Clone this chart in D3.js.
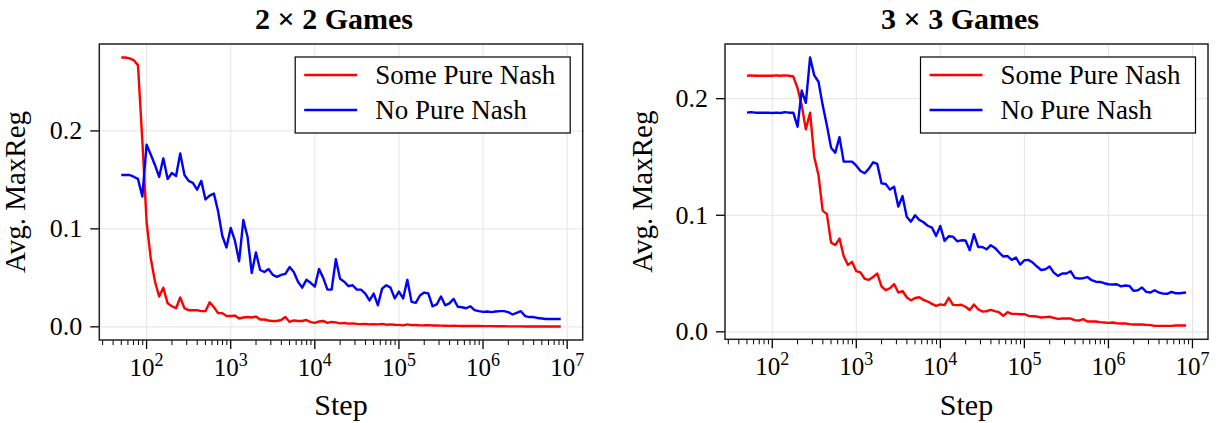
<!DOCTYPE html>
<html lang="en">
<head>
    <meta charset="UTF-8">
    <title>Avg. MaxReg vs Step</title>
    <script src="https://d3js.org/d3.v7.min.js"></script>
    <style>
        body { margin: 0; background: #fff; }
        svg text { font-family: "Liberation Serif", "DejaVu Serif", serif; fill: #000; }
        .grid line { stroke: #e4e4e4; stroke-width: 1; }
    </style>
</head>
<body>
<svg id="chart" width="1223" height="423"></svg>
<script>
// training steps (log-spaced checkpoints)
const steps = [
    50, 56, 63, 71, 79, 89,
    100, 112, 126, 141, 158, 178, 200, 224, 251, 282, 316, 355, 398, 447, 501, 562, 631, 708, 794, 891,
    1000, 1122, 1259, 1413, 1585, 1778, 1995, 2239, 2512, 2818, 3162, 3548, 3981, 4467, 5012, 5623, 6310, 7079, 7943, 8913,
    10000, 11220, 12589, 14125, 15849, 17783, 19953, 22387, 25119, 28184, 31623, 35481, 39811, 44668, 50119, 56234, 63096, 70795, 79433, 89125,
    100000, 112202, 125893, 141254, 158489, 177828, 199526, 223872, 251189, 281838, 316228, 354813, 398107, 446684, 501187, 562341, 630957, 707946, 794328, 891251,
    1000000, 1122018, 1258925, 1412538, 1584893, 1778279, 1995262, 2238721, 2511886, 2818383, 3162278, 3548134, 3981072, 4466836, 5011872, 5623413, 6309573, 7079458,
    8388608
];

// 2x2 games
const somePure2 = [
    0.275, 0.275, 0.274, 0.272, 0.267, 0.19,
    0.107, 0.070, 0.046, 0.031, 0.040, 0.024, 0.021, 0.019, 0.030, 0.019, 0.017, 0.017, 0.017, 0.016, 0.016, 0.025, 0.020, 0.014, 0.014, 0.011,
    0.011, 0.0115, 0.0085, 0.0095, 0.010, 0.0095, 0.0105, 0.0075, 0.0075, 0.0065, 0.006, 0.006, 0.007, 0.010, 0.005, 0.0065, 0.006, 0.006, 0.007, 0.0048,
    0.004, 0.0055, 0.006, 0.004, 0.005, 0.0045, 0.0035, 0.004, 0.0033, 0.0035, 0.003, 0.0028, 0.003, 0.0025, 0.0028, 0.0025, 0.003, 0.0022,
    0.0025, 0.0022, 0.002, 0.0015, 0.0025, 0.0018, 0.002, 0.0015, 0.0016, 0.0018, 0.0014, 0.0013, 0.0012, 0.0011, 0.0010, 0.0011, 0.0010, 0.0009, 0.0009, 0.0008,
    0.0008, 0.0008, 0.0007, 0.0007, 0.0007, 0.0006, 0.0006, 0.0006, 0.0005, 0.0005, 0.0005, 0.0005, 0.0004, 0.0004, 0.0004, 0.0004, 0.0003, 0.0003,
    0.0003, 0.0003, 0.0003
];
const noPure2 = [
    0.155, 0.155, 0.155, 0.153, 0.151, 0.133,
    0.186, 0.176, 0.165, 0.153, 0.172, 0.151, 0.157, 0.154, 0.177, 0.155, 0.149, 0.147, 0.140, 0.149, 0.130, 0.134, 0.136, 0.118, 0.093, 0.081,
    0.101, 0.088, 0.067, 0.109, 0.092, 0.055, 0.076, 0.058, 0.056, 0.059, 0.053, 0.051, 0.053, 0.054, 0.061, 0.056, 0.046, 0.040, 0.048, 0.045,
    0.041, 0.059, 0.050, 0.038, 0.038, 0.069, 0.049, 0.046, 0.0415, 0.0425, 0.038, 0.038, 0.034, 0.027, 0.034, 0.022, 0.039, 0.0425, 0.040, 0.029,
    0.036, 0.029, 0.048, 0.0255, 0.0245, 0.032, 0.035, 0.034, 0.021, 0.023, 0.031, 0.022, 0.024, 0.0285, 0.0205, 0.020, 0.019, 0.021, 0.017, 0.016,
    0.0153, 0.0156, 0.015, 0.0156, 0.016, 0.016, 0.015, 0.0126, 0.0143, 0.016, 0.011, 0.010, 0.010, 0.009, 0.0085, 0.008, 0.008, 0.008,
    0.008
];

// 3x3 games
const somePure3 = [
    0.2197, 0.220, 0.2197, 0.2197, 0.2197, 0.2197,
    0.2197, 0.220, 0.2197, 0.220, 0.2197, 0.219, 0.209, 0.1945, 0.1737, 0.188, 0.150, 0.1345, 0.104, 0.101, 0.0765, 0.0745, 0.080, 0.065, 0.0574, 0.060,
    0.052, 0.051, 0.0454, 0.0446, 0.047, 0.050, 0.039, 0.0357, 0.0374, 0.041, 0.0337, 0.035, 0.0297, 0.027, 0.029, 0.0297, 0.0274, 0.026, 0.024, 0.0223,
    0.0235, 0.0229, 0.0292, 0.0231, 0.0229, 0.0232, 0.0215, 0.0187, 0.0234, 0.0194, 0.0174, 0.0177, 0.0189, 0.0177, 0.0166, 0.0137, 0.0169, 0.0154, 0.0154, 0.0151,
    0.0151, 0.0137, 0.0134, 0.0131, 0.0123, 0.0126, 0.0129, 0.012, 0.0111, 0.0114, 0.0114, 0.0114, 0.010, 0.0097, 0.0109, 0.0089, 0.0089, 0.0089, 0.0083, 0.008,
    0.0077, 0.0080, 0.0074, 0.0071, 0.0071, 0.0066, 0.0063, 0.0063, 0.0063, 0.006, 0.0057, 0.0051, 0.0051, 0.0051, 0.0051, 0.0051, 0.0054, 0.0054,
    0.0054
];
const noPure3 = [
    0.188, 0.1885, 0.188, 0.188, 0.188, 0.188,
    0.1877, 0.188, 0.1877, 0.1885, 0.188, 0.188, 0.176, 0.207, 0.1965, 0.2354, 0.220, 0.2145, 0.1945, 0.177, 0.158, 0.1537, 0.167, 0.146, 0.146, 0.146,
    0.1425, 0.138, 0.136, 0.140, 0.1454, 0.144, 0.1274, 0.1268, 0.122, 0.1245, 0.1074, 0.1165, 0.0988, 0.0945, 0.100, 0.096, 0.094, 0.091, 0.0894, 0.0823,
    0.0908, 0.078, 0.082, 0.0817, 0.0777, 0.0785, 0.0783, 0.070, 0.0837, 0.0728, 0.0728, 0.0708, 0.0743, 0.072, 0.068, 0.0646, 0.065, 0.0617, 0.0637, 0.0577,
    0.0614, 0.0617, 0.0594, 0.056, 0.053, 0.0537, 0.056, 0.0508, 0.048, 0.050, 0.050, 0.052, 0.0463, 0.0457, 0.046, 0.047, 0.0443, 0.043, 0.0428, 0.0417,
    0.0408, 0.0406, 0.0408, 0.039, 0.0397, 0.0394, 0.0351, 0.0357, 0.038, 0.0343, 0.0337, 0.0357, 0.0337, 0.0328, 0.0326, 0.0343, 0.0331, 0.0331,
    0.0337
];

const yTicks2 = [0.0, 0.1, 0.2];
const yTicks3 = [0.0, 0.1, 0.2];
const xTickExps = [2, 3, 4, 5, 6, 7];
const seriesNames = ["Some Pure Nash", "No Pure Nash"];
const seriesColors = ["#ff0000", "#0000ff"];

const svg = d3.select("#chart");

const panels = [
    { title: "2 \u00d7 2 Games", titleX: 334, x0: 99.3, x1: 582.7, y0: 44, y1: 340, ylabX: 25,
      yTicks: yTicks2, series: [somePure2, noPure2] },
    { title: "3 \u00d7 3 Games", titleX: 960, x0: 725, x1: 1208, y0: 44, y1: 339.3, ylabX: 652,
      yTicks: yTicks3, series: [somePure3, noPure3] }
];

function padded(lo, hi, frac) {
    const m = (hi - lo) * frac;
    return [lo - m, hi + m];
}

panels.forEach(p => {
    const g = svg.append("g");

    const logExt = padded(Math.log10(d3.min(steps)), Math.log10(d3.max(steps)), 0.05);
    const x = d3.scaleLog()
        .domain([Math.pow(10, logExt[0]), Math.pow(10, logExt[1])])
        .range([p.x0, p.x1]);

    const allVals = p.series[0].concat(p.series[1]);
    const y = d3.scaleLinear()
        .domain(padded(d3.min(allVals), d3.max(allVals), 0.05))
        .range([p.y1, p.y0]);

    const majors = xTickExps.map(e => Math.pow(10, e)).filter(v => v >= x.domain()[0] && v <= x.domain()[1]);
    const minors = [];
    for (let e = 1; e <= 7; e++) {
        for (let k = 2; k <= 9; k++) {
            const v = k * Math.pow(10, e);
            if (v >= x.domain()[0] && v <= x.domain()[1]) minors.push(v);
        }
    }

    // grid
    const grid = g.append("g").attr("class", "grid");
    grid.selectAll(".gx").data(majors).enter().append("line")
        .attr("x1", d => x(d)).attr("x2", d => x(d))
        .attr("y1", p.y0).attr("y2", p.y1);
    grid.selectAll(".gy").data(p.yTicks).enter().append("line")
        .attr("x1", p.x0).attr("x2", p.x1)
        .attr("y1", d => y(d)).attr("y2", d => y(d));

    // x axis ticks
    const xAxis = g.append("g").attr("transform", `translate(0,${p.y1})`);
    xAxis.selectAll(".minor").data(minors).enter().append("line")
        .attr("x1", d => x(d)).attr("x2", d => x(d))
        .attr("y1", 0).attr("y2", 5)
        .attr("stroke", "#000").attr("stroke-width", 1);
    xAxis.selectAll(".major").data(majors).enter().append("line")
        .attr("x1", d => x(d)).attr("x2", d => x(d))
        .attr("y1", 0).attr("y2", 9)
        .attr("stroke", "#000").attr("stroke-width", 1.3);
    const xl = xAxis.selectAll(".xl").data(majors).enter().append("text")
        .attr("x", d => x(d)).attr("y", 36)
        .attr("text-anchor", "middle")
        .attr("font-size", 25);
    xl.append("tspan").text("10");
    xl.append("tspan").attr("font-size", 18).attr("dy", -10).text(d => Math.round(Math.log10(d)));

    // y axis ticks
    const yAxis = g.append("g");
    yAxis.selectAll(".yt").data(p.yTicks).enter().append("line")
        .attr("x1", p.x0 - 9).attr("x2", p.x0)
        .attr("y1", d => y(d)).attr("y2", d => y(d))
        .attr("stroke", "#000").attr("stroke-width", 1.3);
    yAxis.selectAll(".yl").data(p.yTicks).enter().append("text")
        .attr("x", p.x0 - 17).attr("y", d => y(d) + 8.5)
        .attr("text-anchor", "end")
        .attr("font-size", 26)
        .text(d => d3.format(".1f")(d));

    // lines
    const line = d3.line()
        .x((d, i) => x(steps[i]))
        .y(d => y(d));
    const clipId = "clip" + Math.round(p.x0);
    g.append("clipPath").attr("id", clipId).append("rect")
        .attr("x", p.x0).attr("y", p.y0).attr("width", p.x1 - p.x0).attr("height", p.y1 - p.y0);
    p.series.forEach((s, i) => {
        g.append("path")
            .datum(s)
            .attr("clip-path", `url(#${clipId})`)
            .attr("fill", "none")
            .attr("stroke", seriesColors[i])
            .attr("stroke-width", 2.4)
            .attr("stroke-linejoin", "round")
            .attr("d", line);
    });

    // frame
    g.append("rect")
        .attr("x", p.x0).attr("y", p.y0)
        .attr("width", p.x1 - p.x0).attr("height", p.y1 - p.y0)
        .attr("fill", "none").attr("stroke", "#222").attr("stroke-width", 1.5);

    // legend
    const lx = p.x1 - 12.5 - 275, ly = p.y0 + 13;
    const leg = g.append("g").attr("transform", `translate(${lx},${ly})`);
    leg.append("rect")
        .attr("width", 275).attr("height", 76)
        .attr("fill", "#fff").attr("stroke", "#000").attr("stroke-width", 1.2);
    seriesNames.forEach((name, i) => {
        const cy = 18 + i * 35;
        leg.append("line")
            .attr("x1", 9).attr("x2", 62)
            .attr("y1", cy).attr("y2", cy)
            .attr("stroke", seriesColors[i]).attr("stroke-width", 2.4);
        leg.append("text")
            .attr("x", 80).attr("y", cy + 8.5)
            .attr("font-size", 27)
            .text(name);
    });

    // labels
    g.append("text")
        .attr("x", p.titleX).attr("y", 29)
        .attr("text-anchor", "middle")
        .attr("font-size", 30).attr("font-weight", "bold")
        .text(p.title);
    g.append("text")
        .attr("x", (p.x0 + p.x1) / 2).attr("y", 415)
        .attr("text-anchor", "middle")
        .attr("font-size", 30)
        .text("Step");
    g.append("text")
        .attr("transform", `translate(${p.ylabX},${(p.y0 + p.y1) / 2}) rotate(-90)`)
        .attr("text-anchor", "middle")
        .attr("font-size", 29)
        .text("Avg. MaxReg");
});
</script>
</body>
</html>
